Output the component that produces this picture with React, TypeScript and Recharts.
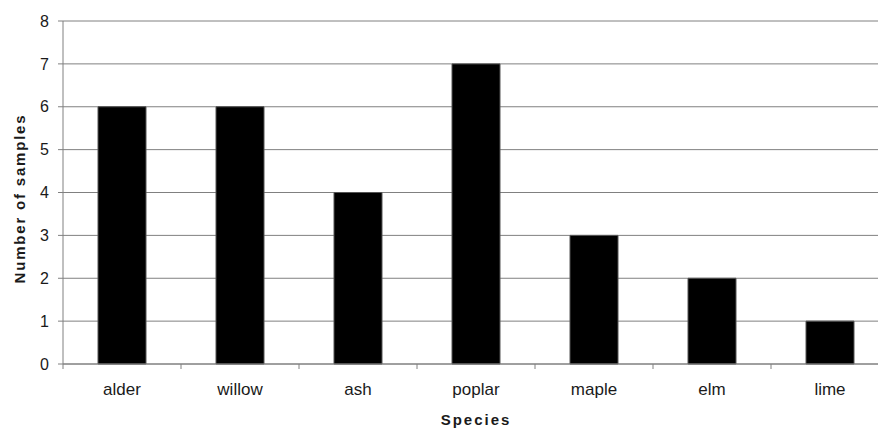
import { BarChart, Bar, XAxis, YAxis, CartesianGrid, Label } from 'recharts';

const species = ['alder', 'willow', 'ash', 'poplar', 'maple', 'elm', 'lime'];
const samples = [6, 6, 4, 7, 3, 2, 1];
const yTicks = [0, 1, 2, 3, 4, 5, 6, 7, 8];

const data = species.map((name, i) => ({ name, samples: samples[i] }));

const FONT = '"Liberation Sans", Arial, sans-serif';
const BAND = 118; // category width, used to put x ticks on the boundaries

// category label + tick mark at the left boundary of each category
const SpeciesTick = (props: any) => {
  const { x, y, payload, index } = props;
  const left = x - BAND / 2;
  return (
    <g>
      <line x1={left} y1={y - 8} x2={left} y2={y - 3} stroke="#808080" />
      {index === species.length - 1 && (
        <line x1={x + BAND / 2} y1={y - 8} x2={x + BAND / 2} y2={y - 3} stroke="#808080" />
      )}
      <text x={x} y={y + 23} textAnchor="middle" fill="#1a1a1a" fontSize={17} fontFamily={FONT}>
        {payload.value}
      </text>
    </g>
  );
};

// rotated y axis title
const YTitle = (props: any) => {
  const { viewBox } = props;
  const cx = 19;
  const cy = viewBox.y + viewBox.height / 2 + 6;
  return (
    <text
      x={cx}
      y={cy}
      transform={`rotate(-90, ${cx}, ${cy})`}
      textAnchor="middle"
      dominantBaseline="central"
      fill="#1a1a1a"
      fontSize={15}
      fontWeight="bold"
      fontFamily={FONT}
      letterSpacing={1.8}
    >
      Number of samples
    </text>
  );
};

export default function App() {
  return (
    <div style={{ position: 'absolute', left: 0, top: 0, width: 878, height: 429, overflow: 'hidden', background: '#fff' }}>
      <BarChart
        width={900}
        height={429}
        data={data}
        margin={{ top: 21, right: 11, left: 0, bottom: 0 }}
        barCategoryGap={35}
      >
        <CartesianGrid vertical={false} stroke="#808080" strokeWidth={1} />
        <XAxis
          dataKey="name"
          height={65}
          axisLine={{ stroke: '#808080' }}
          tickLine={false}
          tick={<SpeciesTick />}
          interval={0}
        >
          <Label
            value="Species"
            position="insideBottom"
            offset={4}
            fill="#1a1a1a"
            fontSize={15}
            fontWeight="bold"
            fontFamily={FONT}
            letterSpacing={2}
          />
        </XAxis>
        <YAxis
          width={63}
          domain={[0, 8]}
          ticks={yTicks}
          interval={0}
          axisLine={{ stroke: '#808080' }}
          tickLine={{ stroke: '#808080' }}
          tickSize={5}
          tickMargin={9}
          tick={{ fill: '#1a1a1a', fontSize: 16, fontFamily: FONT }}
        >
          <Label content={<YTitle />} />
        </YAxis>
        <Bar dataKey="samples" fill="#000" stroke="#555" strokeWidth={1} isAnimationActive={false} />
      </BarChart>
    </div>
  );
}
